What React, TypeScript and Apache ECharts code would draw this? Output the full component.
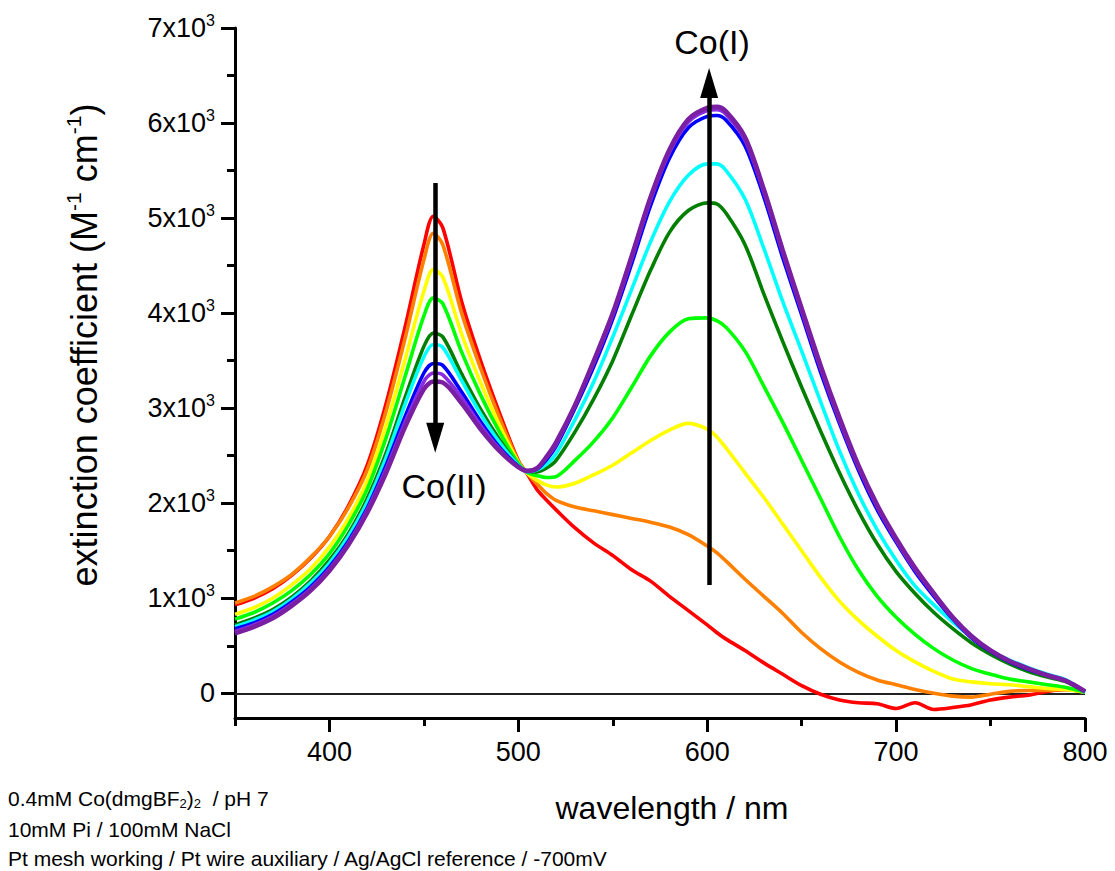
import React, { useEffect, useRef } from 'react';
import * as echarts from 'echarts';

// wavelength grid (nm)
const wavelengths = [350, 360, 370, 380, 390, 400, 410, 420, 430, 440, 450, 455, 460, 470, 480, 490, 500, 505, 510, 515, 520, 530, 540, 550, 560, 570, 580, 590, 600, 605, 610, 620, 630, 640, 650, 660, 670, 680, 690, 700, 710, 720, 730, 740, 750, 760, 770, 780, 790, 800];

// extinction coefficient (M^-1 cm^-1)
const red = [930, 1000, 1100, 1240, 1420, 1650, 1970, 2400, 3050, 3850, 4720, 5020, 4900, 4120, 3500, 2950, 2450, 2300, 2140, 2030, 1930, 1740, 1580, 1450, 1300, 1180, 1020, 870, 720, 640, 570, 450, 320, 200, 80, -10, -70, -100, -110, -160, -100, -170, -150, -120, -70, -40, -20, 20, 40, 10];
const orange = [950, 1020, 1120, 1250, 1430, 1650, 1950, 2350, 2970, 3730, 4560, 4840, 4720, 4000, 3420, 2900, 2440, 2310, 2200, 2100, 2030, 1960, 1920, 1880, 1840, 1800, 1750, 1670, 1550, 1480, 1390, 1200, 1020, 840, 640, 470, 330, 220, 140, 90, 40, 0, -30, -40, -10, 20, 30, 30, 40, 10];
const yellow = [830, 900, 1000, 1140, 1310, 1540, 1840, 2240, 2820, 3510, 4230, 4460, 4380, 3780, 3270, 2820, 2430, 2310, 2240, 2190, 2170, 2210, 2300, 2400, 2530, 2660, 2770, 2840, 2780, 2700, 2580, 2320, 2060, 1780, 1500, 1220, 970, 770, 600, 450, 330, 230, 150, 120, 100, 90, 70, 50, 40, 10];
const green = [780, 850, 950, 1080, 1250, 1470, 1770, 2150, 2690, 3330, 3970, 4160, 4100, 3590, 3140, 2750, 2420, 2320, 2290, 2270, 2280, 2450, 2650, 2900, 3220, 3550, 3800, 3940, 3950, 3920, 3850, 3600, 3230, 2850, 2450, 2050, 1650, 1300, 1020, 800, 620, 470, 350, 260, 200, 150, 120, 90, 60, 10];
const darkGreen = [720, 790, 880, 1010, 1180, 1400, 1680, 2050, 2530, 3110, 3650, 3790, 3750, 3360, 2990, 2670, 2400, 2330, 2330, 2370, 2450, 2750, 3100, 3500, 3980, 4450, 4850, 5080, 5160, 5150, 5050, 4720, 4200, 3700, 3220, 2760, 2320, 1920, 1570, 1280, 1050, 850, 680, 530, 410, 310, 230, 170, 120, 10];
const cyan = [700, 770, 860, 990, 1160, 1370, 1650, 2010, 2480, 3040, 3540, 3670, 3640, 3290, 2940, 2640, 2400, 2330, 2350, 2410, 2520, 2880, 3280, 3750, 4250, 4750, 5170, 5450, 5570, 5570, 5500, 5200, 4680, 4120, 3600, 3070, 2550, 2100, 1720, 1400, 1130, 930, 750, 590, 450, 350, 270, 200, 140, 10];
const blue = [680, 740, 830, 960, 1120, 1330, 1600, 1950, 2400, 2910, 3370, 3470, 3450, 3170, 2860, 2590, 2390, 2340, 2360, 2460, 2600, 3000, 3440, 3940, 4520, 5130, 5630, 5950, 6070, 6080, 6030, 5760, 5220, 4580, 3980, 3380, 2840, 2350, 1930, 1590, 1280, 1020, 780, 580, 440, 330, 250, 190, 130, 20];
const violet = [650, 720, 810, 940, 1100, 1310, 1580, 1930, 2360, 2850, 3280, 3370, 3350, 3110, 2820, 2570, 2380, 2340, 2370, 2480, 2620, 3030, 3480, 3980, 4570, 5190, 5690, 6010, 6130, 6140, 6090, 5820, 5270, 4630, 4020, 3420, 2870, 2380, 1960, 1610, 1300, 1040, 790, 590, 450, 340, 260, 190, 130, 20];
const purple = [630, 700, 790, 920, 1080, 1290, 1560, 1900, 2320, 2800, 3200, 3280, 3270, 3050, 2780, 2550, 2380, 2340, 2370, 2490, 2640, 3030, 3500, 4000, 4600, 5220, 5720, 6040, 6160, 6170, 6120, 5850, 5300, 4660, 4050, 3450, 2900, 2400, 1980, 1630, 1320, 1050, 800, 600, 450, 340, 260, 190, 130, 20];

const yMajorTicks = [0, 1000, 2000, 3000, 4000, 5000, 6000, 7000];
const yMinorTicks = [500, 1500, 2500, 3500, 4500, 5500, 6500];
const xMajorTicks = [400, 500, 600, 700, 800];
const xMinorTicks = [350, 450, 550, 650, 750];

// arrows (data coordinates): [x, yStart, yEnd]
const coIIArrow = [456, 5370, 2690];
const coIArrow = [601, 1140, 6420];

const FONT = '"Liberation Sans", Arial, Helvetica, sans-serif';

export default function App() {
  const ref = useRef<HTMLDivElement>(null);

  useEffect(() => {
    const chart = echarts.init(ref.current!, null, { renderer: 'svg' });

    const curves = [
      { name: 'red', color: '#ff0000', data: red, width: 3.6 },
      { name: 'orange', color: '#ff8000', data: orange, width: 3.6 },
      { name: 'yellow', color: '#ffff00', data: yellow, width: 3.6 },
      { name: 'green', color: '#00ff00', data: green, width: 3.6 },
      { name: 'darkGreen', color: '#007f00', data: darkGreen, width: 3.6 },
      { name: 'cyan', color: '#00ffff', data: cyan, width: 3.6 },
      { name: 'blue', color: '#0000ff', data: blue, width: 3.6 },
      { name: 'violet', color: '#8a2be2', data: violet, width: 3.6 },
      { name: 'purple', color: '#7a1fa2', data: purple, width: 4.6 },
    ];

    const series: any[] = [
      {
        type: 'line',
        name: 'zero',
        data: [],
        silent: true,
        markLine: {
          z: 1,
          silent: true,
          symbol: ['none', 'none'],
          label: { show: false },
          lineStyle: { color: '#222', width: 1.8, type: 'solid' },
          emphasis: { disabled: true },
          data: [{ yAxis: 0 }],
        },
      },
      ...curves.map((c) => ({
        type: 'line',
        name: c.name,
        data: wavelengths.map((w, i) => [w, c.data[i]]),
        showSymbol: false,
        symbol: 'none',
        smooth: 0.3,
        silent: true,
        z: 3,
        lineStyle: { color: c.color, width: c.width },
        itemStyle: { color: c.color },
      })),
      {
        type: 'line',
        name: 'arrows',
        data: [],
        silent: true,
        markLine: {
          z: 10,
          silent: true,
          label: { show: false },
          lineStyle: { color: '#000', width: 4.5, type: 'solid' },
          emphasis: { disabled: true },
          data: [
            [
              { coord: [coIIArrow[0], coIIArrow[1]], symbol: 'none' },
              { coord: [coIIArrow[0], coIIArrow[2]], symbol: 'triangle', symbolSize: [18, 30] },
            ],
            [
              { coord: [coIArrow[0], coIArrow[1]], symbol: 'none' },
              { coord: [coIArrow[0], coIArrow[2]], symbol: 'triangle', symbolSize: [18, 30] },
            ],
          ],
          itemStyle: { color: '#000' },
        },
      },
    ];

    const axisLineStyle = { color: '#000', width: 3 };

    chart.setOption({
      animation: false,
      backgroundColor: '#fff',
      grid: { left: 235, right: 30, top: 28, bottom: 153, containLabel: false, outerBoundsMode: 'none' },
      xAxis: [
        {
          type: 'value',
          min: 350,
          max: 800,
          position: 'bottom',
          axisLine: { show: true, onZero: false, lineStyle: axisLineStyle },
          axisTick: { show: true, length: 14, customValues: xMajorTicks, lineStyle: axisLineStyle },
          axisLabel: {
            show: true,
            customValues: xMajorTicks,
            margin: 20,
            color: '#000',
            fontSize: 27,
            fontFamily: FONT,
          },
          splitLine: { show: false },
        },
        {
          type: 'value',
          min: 350,
          max: 800,
          position: 'bottom',
          axisLine: { show: false, onZero: false },
          axisTick: { show: true, length: 8, customValues: xMinorTicks, lineStyle: axisLineStyle },
          axisLabel: { show: false },
          splitLine: { show: false },
        },
      ],
      yAxis: [
        {
          type: 'value',
          min: -260,
          max: 7000,
          position: 'left',
          axisLine: { show: true, onZero: false, lineStyle: axisLineStyle },
          axisTick: { show: true, length: 14, customValues: yMajorTicks, lineStyle: axisLineStyle },
          axisLabel: {
            show: true,
            customValues: yMajorTicks,
            margin: 20,
            formatter: (v: number) => (v === 0 ? '{b|0}' : `{b|${v / 1000}x10}{s|3}`),
            rich: {
              b: { fontSize: 27, fontFamily: FONT, color: '#000', lineHeight: 32 },
              s: { fontSize: 16, fontFamily: FONT, color: '#000', lineHeight: 14, verticalAlign: 'top' },
            },
          },
          splitLine: { show: false },
        },
        {
          type: 'value',
          min: -260,
          max: 7000,
          position: 'left',
          axisLine: { show: false, onZero: false },
          axisTick: { show: true, length: 8, customValues: yMinorTicks, lineStyle: axisLineStyle },
          axisLabel: { show: false },
          splitLine: { show: false },
        },
      ],
      graphic: [
        {
          type: 'text',
          x: 84,
          y: 345,
          rotation: Math.PI / 2,
          silent: true,
          style: {
            text: '{n|extinction coefficient (M}{s|-1}{n| cm}{s|-1}{n|)}',
            align: 'center',
            verticalAlign: 'middle',
            rich: {
              n: { fontSize: 36, fontFamily: FONT, fill: '#000', lineHeight: 42 },
              s: { fontSize: 21, fontFamily: FONT, fill: '#000', lineHeight: 22, verticalAlign: 'top' },
            },
          },
        },
        {
          type: 'text',
          x: 672,
          y: 808,
          silent: true,
          style: {
            text: 'wavelength / nm',
            align: 'center',
            verticalAlign: 'middle',
            fontSize: 32,
            fontFamily: FONT,
            fill: '#000',
          },
        },
        {
          type: 'text',
          x: 444,
          y: 486,
          silent: true,
          style: { text: 'Co(II)', align: 'center', verticalAlign: 'middle', fontSize: 34, fontFamily: FONT, fill: '#000' },
        },
        {
          type: 'text',
          x: 712,
          y: 42,
          silent: true,
          style: { text: 'Co(I)', align: 'center', verticalAlign: 'middle', fontSize: 34, fontFamily: FONT, fill: '#000' },
        },
        {
          type: 'text',
          x: 8,
          y: 798,
          silent: true,
          style: {
            text: '{n|0.4mM Co(dmgBF}{sub|2}{n|)}{sub|2}{n|  / pH 7}',
            align: 'left',
            verticalAlign: 'middle',
            rich: {
              n: { fontSize: 21, fontFamily: FONT, fill: '#000', lineHeight: 24 },
              sub: { fontSize: 13, fontFamily: FONT, fill: '#000', lineHeight: 12, verticalAlign: 'bottom' },
            },
          },
        },
        {
          type: 'text',
          x: 8,
          y: 829,
          silent: true,
          style: { text: '10mM Pi / 100mM NaCl', align: 'left', verticalAlign: 'middle', fontSize: 21, fontFamily: FONT, fill: '#000' },
        },
        {
          type: 'text',
          x: 8,
          y: 858,
          silent: true,
          style: {
            text: 'Pt mesh working / Pt wire auxiliary / Ag/AgCl reference / -700mV',
            align: 'left',
            verticalAlign: 'middle',
            fontSize: 21,
            fontFamily: FONT,
            fill: '#000',
          },
        },
      ],
      series,
    });

    return () => chart.dispose();
  }, []);

  return (
    <div
      ref={ref}
      style={{ position: 'fixed', left: 0, top: 0, width: 1115, height: 871, background: '#fff' }}
    />
  );
}
